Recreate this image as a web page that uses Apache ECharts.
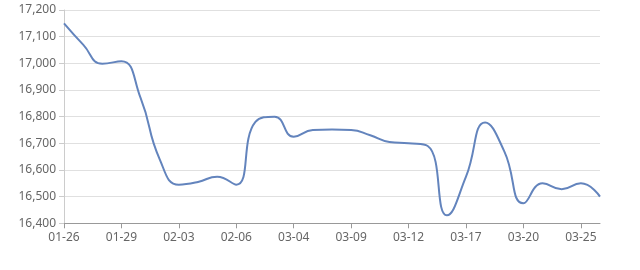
<!DOCTYPE html>
<html>
<head>
<meta charset="utf-8">
<script src="https://cdn.jsdelivr.net/npm/echarts@6/dist/echarts.min.js"></script>
<style>html,body{margin:0;padding:0;background:#fff;}#c{width:640px;height:270px;}</style>
</head>
<body>
<div id="c"></div>
<script>
var categories = ['01-26','01-27','01-28','01-29','01-30','02-02','02-03','02-04','02-05','02-06',
  '03-02','03-03','03-04','03-05','03-06','03-09','03-10','03-11','03-12','03-13',
  '03-16','03-17','03-18','03-19','03-20','03-23','03-24','03-25','03-26'];
var prices = [17150,17070,16998,17008,16870,16640,16545,16555,16575,16545,
  16780,16800,16725,16750,16752,16750,16730,16705,16700,16690,
  16430,16575,16778,16670,16475,16550,16528,16550,16500];
var yTicks = {min:16400, max:17200, step:100};

var chart = echarts.init(document.getElementById('c'), null, {renderer:'canvas'});
chart.setOption({
  animation:false,
  backgroundColor:'#fff',
  grid:{left:64, right:40, top:10, bottom:46.7, containLabel:false},
  xAxis:{
    type:'category', data:categories, boundaryGap:false,
    axisLine:{lineStyle:{color:'#999'}},
    axisTick:{interval:2, length:5, lineStyle:{color:'#999'}},
    axisLabel:{interval:2, color:'#666', fontSize:12, fontFamily:'Noto Sans', margin:8},
    splitLine:{show:false}
  },
  yAxis:{
    type:'value', min:yTicks.min, max:yTicks.max, interval:yTicks.step,
    axisLine:{show:true, lineStyle:{color:'#ccc'}},
    axisTick:{show:true, length:5, lineStyle:{color:'#ccc'}},
    axisLabel:{color:'#666', fontSize:12, fontFamily:'Noto Sans', margin:8,
      formatter:function(v){return v.toLocaleString('en-US');}},
    splitLine:{lineStyle:{color:'#e0e0e0'}}
  },
  series:[{
    type:'line', data:prices, smooth:0.5, showSymbol:false,
    lineStyle:{color:'#6384bd', width:2}
  }]
});
</script>
</body>
</html>
